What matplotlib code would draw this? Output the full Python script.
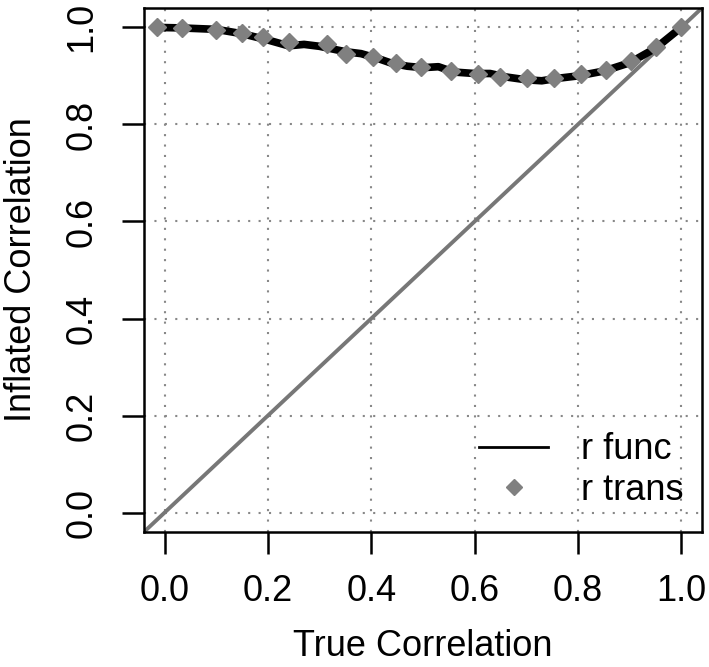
import matplotlib.pyplot as plt
from matplotlib.lines import Line2D

plt.rcParams['font.family'] = ['Liberation Sans', 'DejaVu Sans']

# r trans points (diamonds)
trans_x = [-0.015, 0.033, 0.099, 0.149, 0.19, 0.241, 0.315, 0.351, 0.404, 0.447, 0.496,
           0.555, 0.606, 0.65, 0.701, 0.753, 0.806, 0.854, 0.903, 0.951, 1.0]
trans_y = [1.0, 0.999, 0.995, 0.988, 0.98, 0.969, 0.965, 0.946, 0.939, 0.926, 0.918,
           0.911, 0.905, 0.897, 0.895, 0.895, 0.905, 0.913, 0.93, 0.959, 1.0]

# r func curve (thick black line)
func_x = [-0.015, 0.03, 0.1, 0.15, 0.2, 0.24, 0.27, 0.3, 0.35, 0.38, 0.41, 0.44, 0.47,
          0.5, 0.53, 0.56, 0.6, 0.63, 0.66, 0.7, 0.73, 0.76, 0.8, 0.85, 0.9, 0.95, 1.0]
func_y = [1.0, 0.999, 0.996, 0.987, 0.974, 0.962, 0.965, 0.961, 0.95, 0.946, 0.937, 0.926,
          0.92, 0.917, 0.919, 0.908, 0.905, 0.905, 0.898, 0.892, 0.89, 0.895, 0.9, 0.91,
          0.927, 0.957, 1.0]

ticks = [0.0, 0.2, 0.4, 0.6, 0.8, 1.0]
tick_labels = ['0.0', '0.2', '0.4', '0.6', '0.8', '1.0']

fig = plt.figure(figsize=(7.09, 6.67), dpi=100)
ax = fig.add_axes([0.203, 0.2024, 0.787, 0.7856])

ax.set_xlim(-0.04, 1.04)
ax.set_ylim(-0.04, 1.04)

for t in ticks:
    ax.axvline(t, color='#888888', lw=1.5, ls=(0, (1, 4)), zorder=1)
    ax.axhline(t, color='#888888', lw=1.5, ls=(0, (1, 4)), zorder=1)

# identity line
ax.axline((0, 0), (1, 1), color='#777777', lw=2.8, zorder=2)

ax.plot(func_x, func_y, color='black', lw=5.5, solid_capstyle='round', zorder=3)
ax.plot(trans_x, trans_y, ls='none', marker='D', ms=9, color='#808080', mec='#808080', zorder=4)

ax.set_xticks(ticks)
ax.set_xticklabels(tick_labels)
ax.set_yticks(ticks)
ax.set_yticklabels(tick_labels, rotation=90, va='center')
ax.tick_params(axis='both', direction='out', length=16, width=1.8, labelsize=26)
ax.tick_params(axis='x', pad=14)
ax.tick_params(axis='y', pad=16)
for s in ax.spines.values():
    s.set_linewidth(1.8)

ax.set_xlabel('True Correlation', fontsize=26, labelpad=15)
ax.set_ylabel('Inflated Correlation', fontsize=26, labelpad=18)

handles = [Line2D([], [], color='black', lw=2),
           Line2D([], [], ls='none', marker='D', ms=8, color='#808080')]
ax.legend(handles, ['r func', 'r trans'], loc='lower right', bbox_to_anchor=(1.005, 0.005),
          frameon=False, fontsize=26, handlelength=1.9, handletextpad=0.9,
          labelspacing=0.15, borderaxespad=0.2)

fig.savefig('out.png', dpi=100)
